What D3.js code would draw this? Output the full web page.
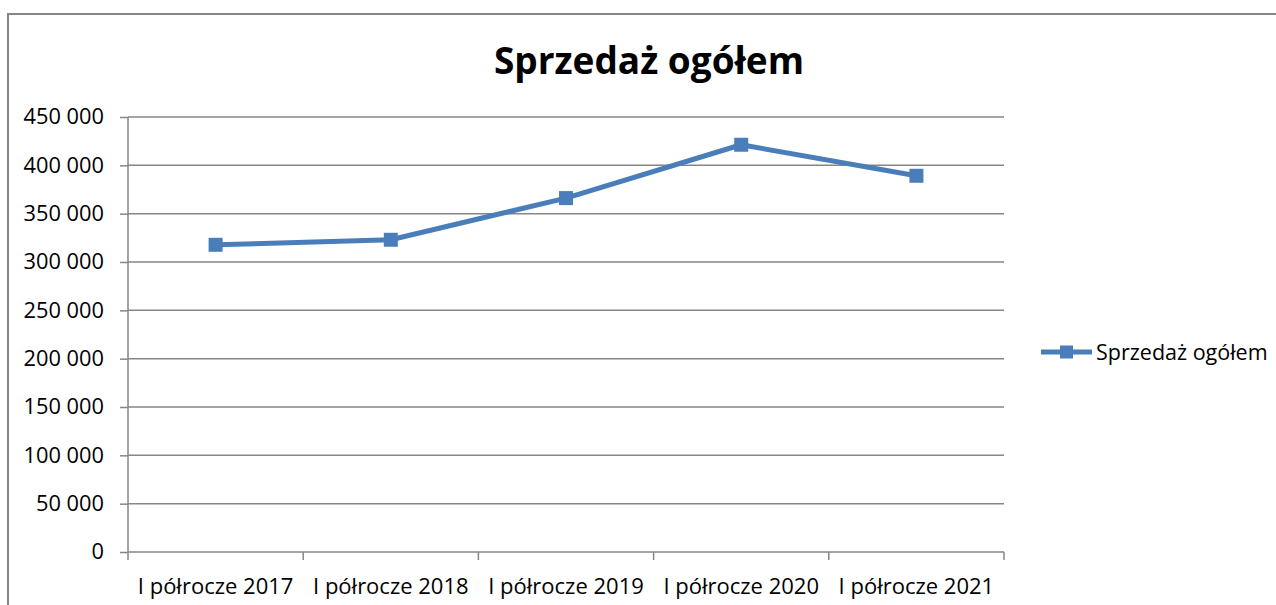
<!DOCTYPE html>
<html>
<head>
<meta charset="utf-8">
<script src="https://cdn.jsdelivr.net/npm/d3@7"></script>
<style>
  body { margin: 0; background: #fff; }
  svg text { font-family: "Open Sans", "Noto Sans", sans-serif; fill: #000; }
</style>
</head>
<body>
<div id="chart"></div>
<script>
const categories = ["I półrocze 2017", "I półrocze 2018", "I półrocze 2019", "I półrocze 2020", "I półrocze 2021"];
const sales = [317800, 323000, 366100, 421300, 389200];
const yTicks = [0, 50000, 100000, 150000, 200000, 250000, 300000, 350000, 400000, 450000];
const seriesName = "Sprzedaż ogółem";
const chartTitle = "Sprzedaż ogółem";

const width = 1276, height = 605;
const margin = { top: 117, right: 272, bottom: 53, left: 128 };
const lineColor = "#4a7ebb";
const gridColor = "#868686";

const svg = d3.select("#chart").append("svg")
  .attr("width", width)
  .attr("height", height);

svg.append("rect").attr("width", width).attr("height", height).attr("fill", "#fff");

// outer chart frame (runs off the right and bottom edges)
svg.append("rect")
  .attr("x", 8).attr("y", 14)
  .attr("width", width + 20).attr("height", height + 20)
  .attr("fill", "none")
  .attr("stroke", gridColor)
  .attr("stroke-width", 2);

const x = d3.scaleBand()
  .domain(categories)
  .range([margin.left, width - margin.right])
  .padding(0);

const y = d3.scaleLinear()
  .domain([0, 450000])
  .range([height - margin.bottom, margin.top]);

const fmt = d => d3.format(",")(d).replace(/,/g, " ");

// gridlines
svg.append("g")
  .selectAll("line")
  .data(yTicks.filter(d => d > 0))
  .join("line")
  .attr("x1", margin.left).attr("x2", width - margin.right)
  .attr("y1", d => y(d)).attr("y2", d => y(d))
  .attr("stroke", gridColor)
  .attr("stroke-width", 1.5);

// y axis
const yAxis = svg.append("g")
  .attr("transform", `translate(${margin.left},0)`)
  .call(d3.axisLeft(y).tickValues(yTicks).tickFormat(fmt).tickSize(8).tickPadding(16));
yAxis.select(".domain").attr("stroke", gridColor).attr("stroke-width", 1.5)
  .attr("d", `M0,${y(450000)}V${y(0)}`);
yAxis.selectAll(".tick line").attr("stroke", gridColor).attr("stroke-width", 1.5);
yAxis.selectAll(".tick text").attr("font-size", 21.8).attr("font-family", "Open Sans").attr("fill", "#000");

// x axis
const xAxis = svg.append("g")
  .attr("transform", `translate(0,${y(0)})`)
  .call(d3.axisBottom(x).tickSize(0).tickPadding(26));
xAxis.select(".domain").attr("stroke", gridColor).attr("stroke-width", 1.5)
  .attr("d", `M${x.range()[0]},0H${x.range()[1]}`);
xAxis.selectAll(".tick text").attr("font-size", 22).attr("font-family", "Open Sans").attr("fill", "#000");

// category boundary ticks
const bounds = categories.map(c => x(c)).concat([x.range()[1]]);
xAxis.append("g")
  .selectAll("line")
  .data(bounds)
  .join("line")
  .attr("x1", d => d).attr("x2", d => d)
  .attr("y1", 0).attr("y2", 8)
  .attr("stroke", gridColor)
  .attr("stroke-width", 1.5);

// series line
const cx = (d, i) => x(categories[i]) + x.bandwidth() / 2;
const line = d3.line()
  .x((d, i) => cx(d, i))
  .y(d => y(d));

svg.append("path")
  .datum(sales)
  .attr("d", line)
  .attr("fill", "none")
  .attr("stroke", lineColor)
  .attr("stroke-width", 5)
  .attr("stroke-linejoin", "round");

const mk = 14;
svg.append("g")
  .selectAll("rect")
  .data(sales)
  .join("rect")
  .attr("x", (d, i) => cx(d, i) - mk / 2)
  .attr("y", d => y(d) - mk / 2)
  .attr("width", mk).attr("height", mk)
  .attr("fill", lineColor);

// title
svg.append("text")
  .attr("x", 649).attr("y", 74)
  .attr("text-anchor", "middle")
  .attr("font-size", 37)
  .attr("font-weight", "bold")
  .text(chartTitle);

// legend
const lg = svg.append("g").attr("transform", "translate(1041,352)");
lg.append("line")
  .attr("x1", 0).attr("x2", 51)
  .attr("stroke", lineColor).attr("stroke-width", 5);
lg.append("rect")
  .attr("x", 19).attr("y", -6.5).attr("width", 13).attr("height", 13)
  .attr("fill", lineColor);
lg.append("text")
  .attr("x", 55).attr("y", 0).attr("dy", "0.35em")
  .attr("font-size", 21.5)
  .text(seriesName);
</script>
</body>
</html>
